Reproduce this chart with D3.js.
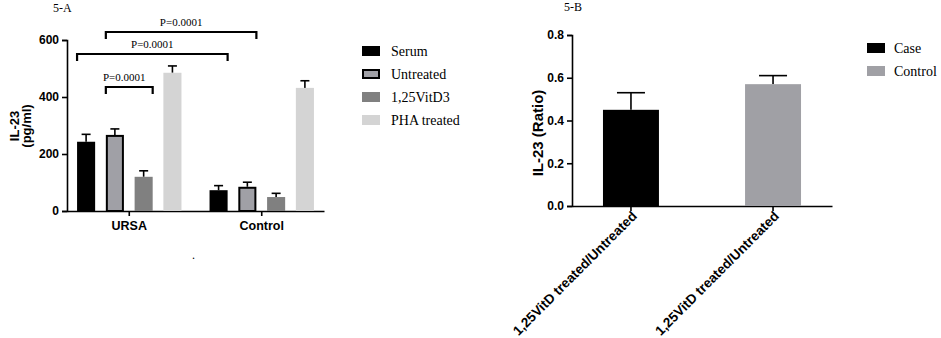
<!DOCTYPE html>
<html>
<head>
<meta charset="utf-8">
<script src="https://cdn.jsdelivr.net/npm/d3@7"></script>
<style>
  body { margin: 0; background: #fff; }
  svg { display: block; }
  .axis path, .axis line { stroke: #000; stroke-width: 1.6; }
  .axis text { font-family: Arial, "Liberation Sans", sans-serif; font-weight: bold; font-size: 12px; fill: #000; }
  .serif { font-family: "Times New Roman", "Liberation Serif", serif; fill: #000; }
</style>
</head>
<body>
<div id="chart"></div>
<script>
// Panel A data
var groupsA = ["URSA", "Control"];
var seriesA = ["Serum", "Untreated", "1,25VitD3", "PHA treated"];
var meansA = {
  URSA:    [243, 267, 120, 485],
  Control: [73, 85, 49, 432]
};
var errA = {
  URSA:    [26, 21, 21, 24],
  Control: [16, 16, 13, 25]
};
var ticksA = [0, 200, 400, 600];
var colorsA = ["#000000", "#a0a0a6", "#808080", "#d4d4d4"];
// brackets: [group index, series index] start -> end, label
var bracketsA = [
  { from: [0, 1], to: [0, 2], level: 0, label: "P=0.0001" },
  { from: [0, 0], to: [1, 0], level: 1, label: "P=0.0001" },
  { from: [0, 1], to: [1, 1], level: 2, label: "P=0.0001" }
];

// Panel B data
var groupsB = ["Case", "Control"];
var catsB = ["1,25VitD treated/Untreated", "1,25VitD treated/Untreated"];
var meansB = [0.45, 0.57];
var errB = [0.08, 0.04];
var ticksB = [0, 0.2, 0.4, 0.6, 0.8];
var colorsB = ["#000000", "#a0a0a5"];

var svg = d3.select("#chart").append("svg")
  .attr("width", 941)
  .attr("height", 338);

// ---------- Panel A ----------
var a = { left: 67, top: 40, bottom: 211, right: 324 };

var yA = d3.scaleLinear().domain([0, 600]).range([a.bottom, a.top]);
var x0 = d3.scaleBand().domain(groupsA).range([a.left, a.right]).paddingInner(0.212).paddingOuter(0.076);
var x1 = d3.scaleBand().domain(seriesA).range([0, x0.bandwidth()]).paddingInner(0.372);

var gA = svg.append("g");

gA.append("g")
  .attr("class", "axis")
  .attr("transform", "translate(" + a.left + ",0)")
  .call(d3.axisLeft(yA).tickValues(ticksA).tickSize(5).tickPadding(3));

var xAxisA = gA.append("g")
  .attr("class", "axis")
  .attr("transform", "translate(0," + a.bottom + ")")
  .call(d3.axisBottom(x0).tickSize(5).tickSizeOuter(0).tickPadding(5));
xAxisA.selectAll("text").style("font-size", "12.5px");

groupsA.forEach(function(g) {
  var grp = gA.append("g").attr("transform", "translate(" + x0(g) + ",0)");
  seriesA.forEach(function(s, i) {
    var v = meansA[g][i], e = errA[g][i];
    var cx = x1(s) + x1.bandwidth() / 2;
    // error bar (upward only)
    grp.append("line")
      .attr("x1", cx).attr("x2", cx)
      .attr("y1", yA(v)).attr("y2", yA(v + e))
      .attr("stroke", "#000").attr("stroke-width", 1.6);
    grp.append("line")
      .attr("x1", cx - 4.5).attr("x2", cx + 4.5)
      .attr("y1", yA(v + e)).attr("y2", yA(v + e))
      .attr("stroke", "#000").attr("stroke-width", 1.6);
    var outlined = (s === "Untreated");
    grp.append("rect")
      .attr("x", x1(s) + (outlined ? 1 : 0))
      .attr("y", yA(v) + (outlined ? 1 : 0))
      .attr("width", x1.bandwidth() - (outlined ? 2 : 0))
      .attr("height", yA(0) - yA(v) - (outlined ? 1 : 0))
      .attr("fill", colorsA[i])
      .attr("stroke", outlined ? "#000" : "none")
      .attr("stroke-width", 2);
  });
});

// significance brackets
var levelTop = [87, 54, 32];
bracketsA.forEach(function(b) {
  var xs = x0(groupsA[b.from[0]]) + x1(seriesA[b.from[1]]);
  var xe = x0(groupsA[b.to[0]]) + x1(seriesA[b.to[1]]) + x1.bandwidth();
  var yt = levelTop[b.level];
  gA.append("path")
    .attr("d", "M" + xs + "," + (yt + 7) + "V" + yt + "H" + xe + "V" + (yt + 7))
    .attr("fill", "none").attr("stroke", "#000").attr("stroke-width", 2.2);
  gA.append("text")
    .attr("class", "serif")
    .attr("x", (xs + xe) / 2 + (b.level === 0 ? -5 : 0))
    .attr("y", yt - 6)
    .attr("text-anchor", "middle")
    .style("font-size", "11px")
    .text(b.label);
});

// y label
gA.append("text")
  .attr("transform", "translate(19,126) rotate(-90)")
  .attr("text-anchor", "middle")
  .style("font-family", "Arial, 'Liberation Sans', sans-serif")
  .style("font-weight", "bold").style("font-size", "13px")
  .text("IL-23");
gA.append("text")
  .attr("transform", "translate(31,126) rotate(-90)")
  .attr("text-anchor", "middle")
  .style("font-family", "Arial, 'Liberation Sans', sans-serif")
  .style("font-weight", "bold").style("font-size", "13px")
  .text("(pg/ml)");

svg.append("text").attr("class", "serif")
  .attr("x", 53).attr("y", 12).style("font-size", "12px").text("5-A");

svg.append("text").attr("class", "serif")
  .attr("x", 192).attr("y", 259).style("font-size", "12px").text(".");

// legend A
var legA = svg.append("g").attr("transform", "translate(362,46)");
seriesA.forEach(function(s, i) {
  var row = legA.append("g").attr("transform", "translate(0," + (i * 23) + ")");
  var outlined = (s === "Untreated");
  row.append("rect")
    .attr("x", outlined ? 1 : 0).attr("y", outlined ? 1 : 0)
    .attr("width", outlined ? 16 : 18).attr("height", outlined ? 8 : 10)
    .attr("fill", colorsA[i])
    .attr("stroke", outlined ? "#000" : "none").attr("stroke-width", 2);
  row.append("text").attr("class", "serif")
    .attr("x", 29).attr("y", 10)
    .style("font-size", "14px")
    .text(s);
});

// ---------- Panel B ----------
var b = { left: 572, top: 35, bottom: 206, right: 832 };
var yB = d3.scaleLinear().domain([0, 0.8]).range([b.bottom, b.top]);
var xB = d3.scaleBand().domain(groupsB).range([b.left, b.right]).paddingInner(0.606).paddingOuter(0.218);

var gB = svg.append("g");

gB.append("g")
  .attr("class", "axis")
  .attr("transform", "translate(" + b.left + ",0)")
  .call(d3.axisLeft(yB).tickValues(ticksB).tickFormat(d3.format(".1f")).tickSize(5).tickPadding(3));

var xAxisB = gB.append("g")
  .attr("class", "axis")
  .attr("transform", "translate(0," + b.bottom + ")")
  .call(d3.axisBottom(xB).tickSize(5).tickSizeOuter(0).tickFormat(function(d, i) { return catsB[i]; }));
xAxisB.selectAll("text")
  .attr("text-anchor", "end")
  .attr("dx", "0.2em")
  .attr("dy", "0.3em")
  .attr("transform", "translate(2,10) rotate(-45)")
  .attr("y", 0).attr("x", 0)
  .style("font-size", "13.5px");

groupsB.forEach(function(g, i) {
  var cx = xB(g) + xB.bandwidth() / 2;
  var v = meansB[i], e = errB[i];
  gB.append("line")
    .attr("x1", cx).attr("x2", cx).attr("y1", yB(v)).attr("y2", yB(v + e))
    .attr("stroke", "#000").attr("stroke-width", 1.6);
  gB.append("line")
    .attr("x1", cx - 14).attr("x2", cx + 14).attr("y1", yB(v + e)).attr("y2", yB(v + e))
    .attr("stroke", "#000").attr("stroke-width", 1.6);
  gB.append("rect")
    .attr("x", xB(g)).attr("y", yB(v))
    .attr("width", xB.bandwidth()).attr("height", yB(0) - yB(v))
    .attr("fill", colorsB[i]);
});

gB.append("text")
  .attr("transform", "translate(543,133) rotate(-90)")
  .attr("text-anchor", "middle")
  .style("font-family", "Arial, 'Liberation Sans', sans-serif")
  .style("font-weight", "bold").style("font-size", "15px")
  .text("IL-23 (Ratio)");

svg.append("text").attr("class", "serif")
  .attr("x", 564).attr("y", 11).style("font-size", "12px").text("5-B");

var legB = svg.append("g").attr("transform", "translate(867,43)");
groupsB.forEach(function(g, i) {
  var row = legB.append("g").attr("transform", "translate(0," + (i * 23) + ")");
  row.append("rect").attr("width", 18).attr("height", 10).attr("fill", colorsB[i]);
  row.append("text").attr("class", "serif")
    .attr("x", 27).attr("y", 10).style("font-size", "14px").text(g);
});
</script>
</body>
</html>
